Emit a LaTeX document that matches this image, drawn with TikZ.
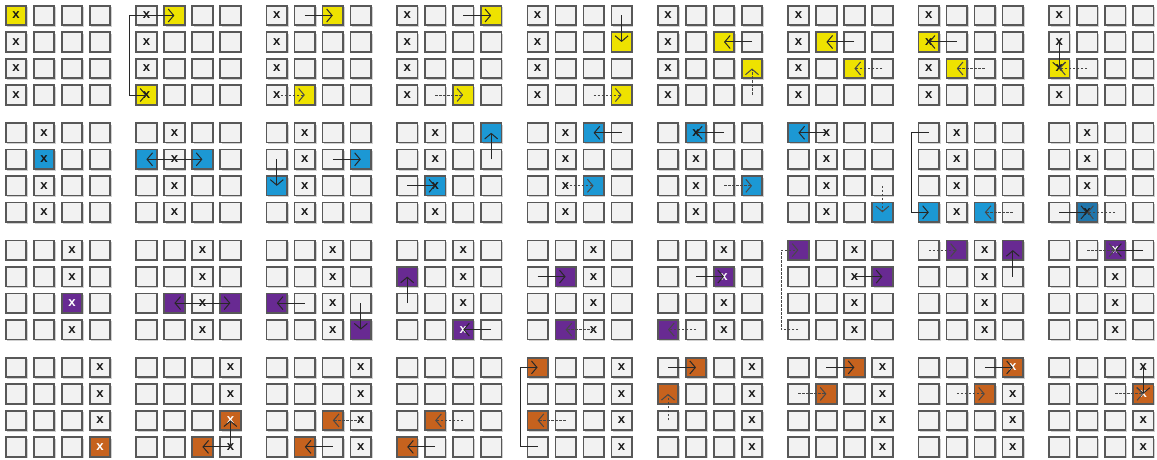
\documentclass[tikz,border=0pt]{standalone}
\usepackage{fontspec}
\newfontfamily\markfont{Liberation Mono}
\usetikzlibrary{arrows.meta, shadows}

\definecolor{hlyellow}{RGB}{238,226,0}
\definecolor{hlblue}{RGB}{28,152,212}
\definecolor{hlbluedark}{RGB}{32,118,172}
\definecolor{hlpurple}{RGB}{104,42,146}
\definecolor{hlorange}{RGB}{198,98,30}
\definecolor{cellline}{RGB}{88,88,88}
\definecolor{cellfill}{RGB}{242,242,242}
\definecolor{movegray}{RGB}{40,40,40}

% fill one cell of a grid with a colour
\newcommand{\hl}[2]{\filldraw[fill=#2, draw=cellline, line width=1.7pt] (#1.south west) rectangle (#1.north east);}

\begin{document}
\begin{tikzpicture}[
    x=1pt, y=-1pt,
    >={Straight Barb[length=5.5pt, width=13pt]},
    cell/.style={draw=cellline, fill=cellfill, line width=1.7pt,
        minimum width=20.5pt, minimum height=19.5pt, inner sep=0pt, outer sep=0pt,
        drop shadow={shadow xshift=1.6pt, shadow yshift=-1.6pt, opacity=0.3, fill=black!60}},
    xmark/.style={font=\markfont\bfseries\fontsize{13}{13}\selectfont, inner sep=0pt, text=black!90},
    move/.style={draw=movegray, line width=1pt, ->},
    trail/.style={move, draw=movegray!85, dash pattern=on 2.5pt off 1.5pt},
]

\fill[white] (0,0) rectangle (1157,460);
\useasboundingbox (0,0) rectangle (1157,460);

% =============================================================================
% Grids: 4 rows of 9 panels, each 4x4 cells
% =============================================================================
\foreach \row/\tag in {0/y,1/b,2/p,3/o}
  \foreach \p in {1,...,9}
    \foreach \c in {0,...,3}
      \foreach \r in {0,...,3}
        \node[cell] (\tag\p-\c\r) at ({16+130.4*(\p-1)+28*\c}, {15.5+117.3*\row+26.5*\r}) {};

% =============================================================================
% Row 1: yellow
% =============================================================================
\hl{y1-00}{hlyellow}
\hl{y2-10}{hlyellow} \hl{y2-03}{hlyellow}
\hl{y3-20}{hlyellow} \hl{y3-13}{hlyellow}
\hl{y4-30}{hlyellow} \hl{y4-23}{hlyellow}
\hl{y5-31}{hlyellow} \hl{y5-33}{hlyellow}
\hl{y6-21}{hlyellow} \hl{y6-32}{hlyellow}
\hl{y7-11}{hlyellow} \hl{y7-22}{hlyellow}
\hl{y8-01}{hlyellow} \hl{y8-12}{hlyellow}
\hl{y9-02}{hlyellow}

\foreach \p in {1,...,9}
  \foreach \r in {0,...,3}
    \node[xmark] (y\p-x\r) at (y\p-0\r) {x};

% --- moves ---
\draw[move, <->] (y2-10.center) -- ([xshift=-17pt]y2-00.center) |- (y2-03.center);
\draw[move] (y3-10.center) -- (y3-20.center);
\draw[trail] (y3-03.center) -- (y3-13.center);
\draw[move] (y4-20.center) -- (y4-30.center);
\draw[trail] (y4-13.center) -- (y4-23.center);
\draw[move] (y5-30.center) -- (y5-31.center);
\draw[trail] (y5-23.center) -- (y5-33.center);
\draw[move] (y6-31.center) -- (y6-21.center);
\draw[trail] (y6-33.center) -- (y6-32.center);
\draw[move] (y7-21.center) -- (y7-11.center);
\draw[trail] (y7-32.center) -- (y7-22.center);
\draw[move] (y8-11.center) -- (y8-01.center);
\draw[trail] (y8-22.center) -- (y8-12.center);
\draw[move] (y9-01.center) -- (y9-02.center);
\draw[trail] (y9-12.center) -- (y9-02.center);

% =============================================================================
% Row 2: blue
% =============================================================================
\hl{b1-11}{hlblue}
\hl{b2-01}{hlblue} \hl{b2-21}{hlblue}
\hl{b3-31}{hlblue} \hl{b3-02}{hlblue}
\hl{b4-30}{hlblue} \hl{b4-12}{hlblue}
\hl{b5-20}{hlblue} \hl{b5-22}{hlblue}
\hl{b6-10}{hlblue} \hl{b6-32}{hlblue}
\hl{b7-00}{hlblue} \hl{b7-33}{hlblue}
\hl{b8-03}{hlblue} \hl{b8-23}{hlblue}
\hl{b9-13}{hlbluedark}

\foreach \p in {1,...,9}
  \foreach \r in {0,...,3}
    \node[xmark] (b\p-x\r) at (b\p-1\r) {x};

% --- moves ---
\draw[move] (b2-11.center) -- (b2-01.center);
\draw[move] (b2-11.center) -- (b2-21.center);
\draw[move] (b3-21.center) -- (b3-31.center);
\draw[move] (b3-01.center) -- (b3-02.center);
\draw[move] (b4-31.center) -- (b4-30.center);
\draw[move] (b4-02.center) -- (b4-12.center);
\draw[move] (b5-30.center) -- (b5-20.center);
\draw[trail] (b5-12.center) -- (b5-22.center);
\draw[move] (b6-20.center) -- (b6-10.center);
\draw[trail] (b6-22.center) -- (b6-32.center);
\draw[move] (b7-10.center) -- (b7-00.center);
\draw[trail] (b7-32.center) -- (b7-33.center);
\draw[move] (b8-00.center) -- ([xshift=-17pt]b8-00.center) |- (b8-03.center);
\draw[trail] (b8-33.center) -- (b8-23.center);
\draw[move] (b9-03.center) -- (b9-13.center);
\draw[trail] (b9-23.center) -- (b9-13.center);

% =============================================================================
% Row 3: purple
% =============================================================================
\hl{p1-22}{hlpurple}
\hl{p2-12}{hlpurple} \hl{p2-32}{hlpurple}
\hl{p3-02}{hlpurple} \hl{p3-33}{hlpurple}
\hl{p4-01}{hlpurple} \hl{p4-23}{hlpurple}
\hl{p5-11}{hlpurple} \hl{p5-13}{hlpurple}
\hl{p6-21}{hlpurple} \hl{p6-03}{hlpurple}
\hl{p7-00}{hlpurple} \hl{p7-31}{hlpurple}
\hl{p8-10}{hlpurple} \hl{p8-30}{hlpurple}
\hl{p9-20}{hlpurple}

% \w = row whose mark sits on a coloured cell (9: none)
\foreach \p/\w in {1/2,2/9,3/9,4/3,5/9,6/1,7/9,8/9,9/0}
  \foreach \r in {0,...,3} {
    \ifnum\r=\w\relax \def\xcol{white}\else \def\xcol{black!90}\fi
    \node[xmark, text=\xcol] (p\p-x\r) at (p\p-2\r) {x};
  }

% --- moves ---
\draw[move] (p2-22.center) -- (p2-12.center);
\draw[move] (p2-22.center) -- (p2-32.center);
\draw[move] (p3-12.center) -- (p3-02.center);
\draw[move] (p3-32.center) -- (p3-33.center);
\draw[move] (p4-02.center) -- (p4-01.center);
\draw[move] (p4-33.center) -- (p4-23.center);
\draw[move] (p5-01.center) -- (p5-11.center);
\draw[trail] (p5-23.center) -- (p5-13.center);
\draw[move] (p6-11.center) -- (p6-21.center);
\draw[trail] (p6-13.center) -- (p6-03.center);
\draw[trail] (p7-03.center) -- ([xshift=-17pt]p7-03.center) |- (p7-00.center);
\draw[move] (p7-21.center) -- (p7-31.center);
\draw[trail] (p8-00.center) -- (p8-10.center);
\draw[move] (p8-31.center) -- (p8-30.center);
\draw[trail] (p9-10.center) -- (p9-20.center);
\draw[move] (p9-30.center) -- (p9-20.center);

% =============================================================================
% Row 4: orange
% =============================================================================
\hl{o1-33}{hlorange}
\hl{o2-32}{hlorange} \hl{o2-23}{hlorange}
\hl{o3-22}{hlorange} \hl{o3-13}{hlorange}
\hl{o4-12}{hlorange} \hl{o4-03}{hlorange}
\hl{o5-00}{hlorange} \hl{o5-02}{hlorange}
\hl{o6-10}{hlorange} \hl{o6-01}{hlorange}
\hl{o7-20}{hlorange} \hl{o7-11}{hlorange}
\hl{o8-30}{hlorange} \hl{o8-21}{hlorange}
\hl{o9-31}{hlorange}

% panel 4 has no marks
\foreach \p/\w in {1/3,2/2,3/9,5/9,6/9,7/9,8/0,9/1}
  \foreach \r in {0,...,3} {
    \ifnum\r=\w\relax \def\xcol{white}\else \def\xcol{black!90}\fi
    \node[xmark, text=\xcol] (o\p-x\r) at (o\p-3\r) {x};
  }

% --- moves ---
\draw[move] (o2-33.center) -- (o2-32.center);
\draw[move] (o2-33.center) -- (o2-23.center);
\draw[trail] (o3-32.center) -- (o3-22.center);
\draw[move] (o3-23.center) -- (o3-13.center);
\draw[trail] (o4-22.center) -- (o4-12.center);
\draw[move] (o4-13.center) -- (o4-03.center);
\draw[move] (o5-03.center) -- ([xshift=-17pt]o5-03.center) |- (o5-00.center);
\draw[trail] (o5-12.center) -- (o5-02.center);
\draw[move] (o6-00.center) -- (o6-10.center);
\draw[trail] (o6-02.center) -- (o6-01.center);
\draw[move] (o7-10.center) -- (o7-20.center);
\draw[trail] (o7-01.center) -- (o7-11.center);
\draw[move] (o8-20.center) -- (o8-30.center);
\draw[trail] (o8-11.center) -- (o8-21.center);
\draw[move] (o9-30.center) -- (o9-31.center);
\draw[trail] (o9-21.center) -- (o9-31.center);

\end{tikzpicture}
\end{document}
